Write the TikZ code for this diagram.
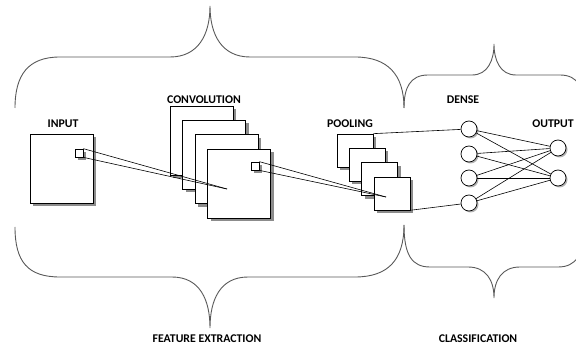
\documentclass[tikz,border=0pt]{standalone}
\usepackage{fontspec}
\setmainfont{Carlito}
\usetikzlibrary{shadows}

\begin{document}
\begin{tikzpicture}[
			x=1pt,y=-1pt,
			map/.style={draw,fill=white,rectangle,line width=0.7pt,minimum width=63pt,minimum height=69pt,inner sep=0pt,
				drop shadow={shadow xshift=3pt,shadow yshift=-3pt,fill=black!45,opacity=1}},
			poolmap/.style={map,minimum width=36pt,minimum height=33pt},
			patch/.style={map,minimum width=8pt,minimum height=8pt},
			neuron/.style={draw,fill=white,circle,line width=0.7pt,minimum size=16pt,inner sep=0pt,
				drop shadow={shadow xshift=1.5pt,shadow yshift=-1.5pt,fill=black!30,opacity=1}},
			lbl/.style={font=\bfseries\fontsize{11.8}{14}\selectfont},
			curly/.style={draw=black!65,line width=0.9pt},
			link/.style={draw,line width=0.6pt}
		]
		\useasboundingbox (0,0) rectangle (576,352);
		\clip (0,0) rectangle (576,352);

		% braces
		\draw[curly] (15,108) .. controls (15,75) and (28,57) .. (60,57) -- (170,57)
			.. controls (198,57) and (210,35) .. (210,6) .. controls (210,35) and (222,57) .. (250,57)
			-- (355,57) .. controls (388,57) and (404,75) .. (404,108);
		\draw[curly] (15,227) .. controls (15,262) and (28,277) .. (60,277) -- (172,277)
			.. controls (200,277) and (210,300) .. (210,328) .. controls (210,300) and (220,277) .. (248,277)
			-- (355,277) .. controls (388,277) and (404,260) .. (404,225);
		\draw[curly] (404,108) .. controls (404,88) and (410,75) .. (428,75) -- (472,75)
			.. controls (488,75) and (494,60) .. (494,44) .. controls (494,60) and (500,75) .. (516,75)
			-- (560,75) .. controls (578,75) and (584,88) .. (584,108);
		\draw[curly] (404,225) .. controls (404,255) and (412,267) .. (430,267) -- (468,267)
			.. controls (486,267) and (494,280) .. (494,298) .. controls (494,280) and (502,267) .. (520,267)
			-- (558,267) .. controls (576,267) and (584,255) .. (584,225);

		% maps
		\node[map] (input) at (61.5,168.5) {};
		\node[patch] (inpatch) at (79,153) {};
		\foreach \i in {0,...,3}
			\node[map] (conv\i) at (201.5+12.6*\i,140.5+14.3*\i) {};
		\node[patch] (convpatch) at (255,166) {};
		\foreach \i in {0,...,3}
			\node[poolmap] (pool\i) at (355+12.4*\i,150.5+14.3*\i) {};

		\coordinate (hitconv) at (227,189);
		\coordinate (hitpool) at (386,197);
		\draw[link] (inpatch.north east) -- (hitconv);
		\draw[link] (inpatch.south east) -- (hitconv);
		\draw[link] (convpatch.north east) -- (hitpool);
		\draw[link] (convpatch.south east) -- (hitpool);

		% dense part
		\foreach \j/\y in {1/129,2/154,3/178,4/203}
			\node[neuron] (d\j) at (469,\y) {};
		\foreach \k/\y in {1/148,2/178}
			\node[neuron] (o\k) at (558,\y) {};
		\draw[link] (pool0.north east) -- (d1);
		\draw[link] (pool3.south east) -- (d4);
		\foreach \j in {1,...,4}
			\foreach \k in {1,2}
				\draw[link] (d\j) -- (o\k);

		% labels
		\node[lbl] (tinput) at (63,124) {INPUT};
		\node[lbl] (tconv) at (204,100) {CONVOLUTION};
		\node[lbl] (tpool) at (350,124) {POOLING};
		\node[lbl] (tdense) at (463,100) {DENSE};
		\node[lbl] (toutput) at (553,124) {OUTPUT};
		\node[lbl] (tfeat) at (207,339) {FEATURE EXTRACTION};
		\node[lbl] (tclass) at (478,339) {CLASSIFICATION};
\end{tikzpicture}
\end{document}
